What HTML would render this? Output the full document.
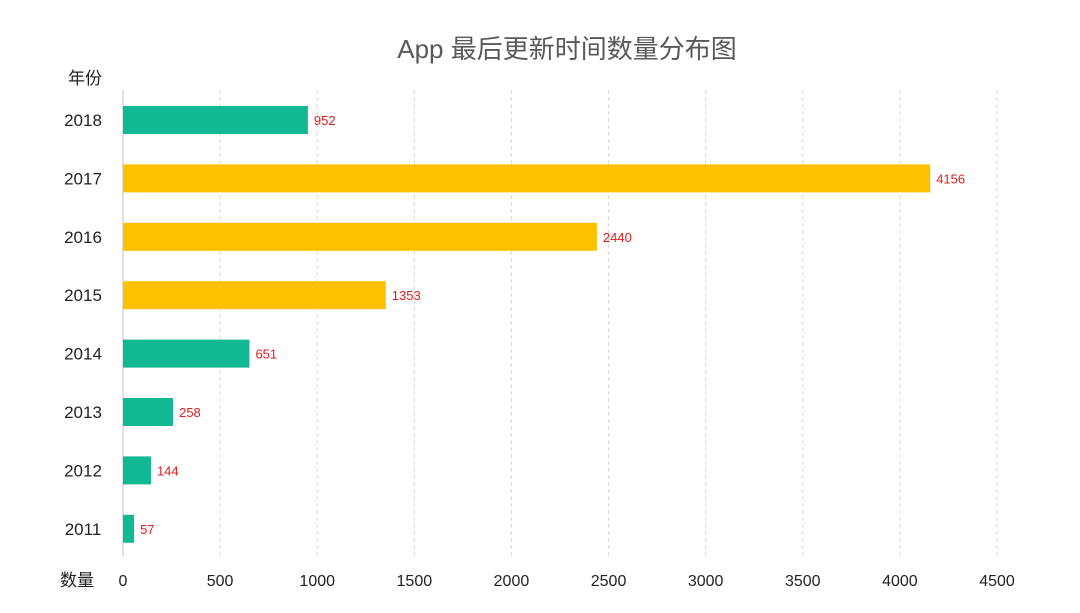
<!DOCTYPE html>
<html><head><meta charset="utf-8">
<style>
html,body{margin:0;padding:0;background:#fff;}
body{width:1080px;height:608px;overflow:hidden;font-family:"Liberation Sans","Noto Sans CJK SC",sans-serif;}
</style></head>
<body>
<svg id="chart" width="1080" height="608" xmlns="http://www.w3.org/2000/svg" font-family="Liberation Sans, Noto Sans CJK SC, sans-serif">
<text x="567" y="58" text-anchor="middle" font-size="26" fill="#595959">App 最后更新时间数量分布图</text>
<text x="85" y="84" text-anchor="middle" font-size="17" fill="#222">年份</text>
<text x="77" y="586" text-anchor="middle" font-size="17" fill="#222">数量</text>
<g id="grid"></g><g id="bars"></g><g id="labels"></g>
</svg>
<script>
const categories=["2018","2017","2016","2015","2014","2013","2012","2011"];
const values=[952,4156,2440,1353,651,258,144,57];
const highlight=[false,true,true,true,false,false,false,false];
const ticks=[0,500,1000,1500,2000,2500,3000,3500,4000,4500];
const NS="http://www.w3.org/2000/svg";
const x0=123,x1=997,xmax=4500;
const xs=v=>x0+(x1-x0)*v/xmax;
const ys=i=>120+i*58.4;
const svg=document.getElementById('chart');
function mk(t,a,p){const e=document.createElementNS(NS,t);for(const k in a)e.setAttribute(k,a[k]);p.appendChild(e);return e;}
const g=document.getElementById('grid'),b=document.getElementById('bars'),l=document.getElementById('labels');
ticks.forEach(t=>{
  if(t>0){const ln=mk('line',{x1:xs(t),x2:xs(t),y1:90,y2:556,stroke:'#d9d9d9','stroke-dasharray':'4,3'},g);
  
  }
  const tx=mk('text',{x:xs(t),y:586,'text-anchor':'middle','font-size':16,fill:'#222'},g);
  tx.textContent=t;
  
  
});
const ax=mk('line',{x1:x0,x2:x0,y1:90,y2:556,stroke:'#bfbfbf'},g);


categories.forEach((c,i)=>{
  const y=ys(i);
  const r=mk('rect',{x:x0,y:y-14,width:xs(values[i])-x0,height:28,fill:highlight[i]?'#ffc000':'#12b894'},b);
  
  
  const ct=mk('text',{x:83,y:y+6,'text-anchor':'middle','font-size':17,fill:'#222'},l);
  ct.textContent=c;
  
  
  const vt=mk('text',{x:xs(values[i])+6,y:y+5,'font-size':13,fill:'#e0201c'},l);
  vt.textContent=values[i];
  
  
});
</script>
</body></html>
